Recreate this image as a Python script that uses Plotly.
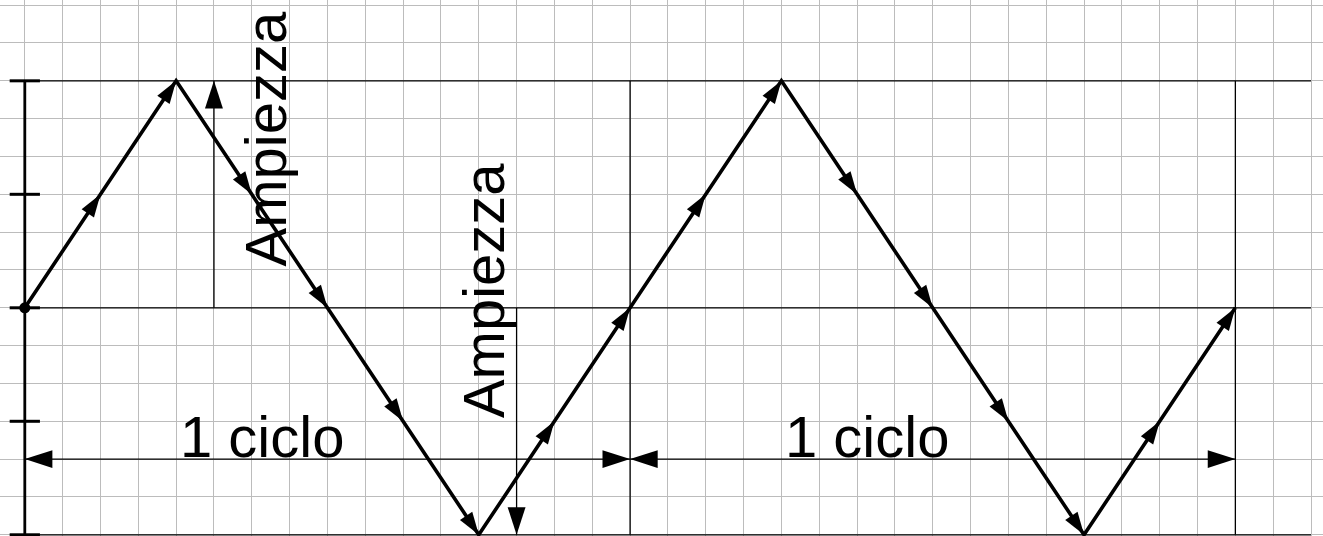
import math
import plotly.graph_objects as go

# ── Geometry of the sheet (grid units) ───────────────────────────────────────
CELL_PX = 37.83
ORIGIN_PX = (24.8, 307.8)
W, H = 1323, 536

# ── Data ─────────────────────────────────────────────────────────────────────
wave_x = [0, 2, 4, 6, 8, 10, 12, 14, 16, 18, 20, 22, 24, 26, 28, 30, 32]
wave_y = [0, 3, 6, 3, 0, -3, -6, -3, 0, 3, 6, 3, 0, -3, -6, -3, 0]

amp_levels = [-6, 0, 6]            # horizontal reference lines
amp_ticks = [-6, -3, 0, 3, 6]      # ticks on the vertical axis
cycle_bounds = [0, 16, 32]         # period boundaries
cycle_y = -4                       # height of the "1 ciclo" dimension lines
amp_arrows = [(5, 0, 6), (13, 0, -6)]   # (x, from, to)
amp_labels = [(6.36, 4.46), (12.13, 0.46)]
cycle_labels = [(6.27, -3.40), (22.27, -3.40)]
line_end = 34

FONT = "Liberation Sans, Arial, sans-serif"
INK = "#000000"

fig = go.Figure()

# thin horizontal reference lines
for lv in amp_levels:
    fig.add_trace(go.Scatter(x=[0, line_end], y=[lv, lv], mode="lines",
                             line=dict(color=INK, width=1.3), hoverinfo="skip"))

# thin vertical period lines
for cb in cycle_bounds[1:]:
    fig.add_trace(go.Scatter(x=[cb, cb], y=[min(amp_levels), max(amp_levels)],
                             mode="lines", line=dict(color=INK, width=1.3),
                             hoverinfo="skip"))

# thick vertical axis with ticks
fig.add_trace(go.Scatter(x=[0, 0], y=[min(amp_levels), max(amp_levels)], mode="lines",
                         line=dict(color=INK, width=2.8), hoverinfo="skip"))
for t in amp_ticks:
    fig.add_trace(go.Scatter(x=[-0.4, 0.4], y=[t, t], mode="lines",
                             line=dict(color=INK, width=3), hoverinfo="skip"))

# amplitude arrows
for ax_x, y0, y1 in amp_arrows:
    fig.add_trace(go.Scatter(x=[ax_x, ax_x], y=[y0, y1], mode="lines",
                             line=dict(color=INK, width=1.3), hoverinfo="skip"))
    fig.add_trace(go.Scatter(x=[ax_x], y=[y1], mode="markers",
                             marker=dict(symbol="arrow", size=29, color=INK,
                                         angle=0 if y1 > y0 else 180),
                             hoverinfo="skip"))

# "1 ciclo" dimension lines
for a, b in zip(cycle_bounds[:-1], cycle_bounds[1:]):
    fig.add_trace(go.Scatter(x=[a, b], y=[cycle_y, cycle_y], mode="lines",
                             line=dict(color=INK, width=1.3), hoverinfo="skip"))
    fig.add_trace(go.Scatter(x=[a, b], y=[cycle_y, cycle_y], mode="markers",
                             marker=dict(symbol="arrow", size=29, color=INK,
                                         angle=[-90, 90]),
                             hoverinfo="skip"))

# the triangle wave
fig.add_trace(go.Scatter(x=wave_x, y=wave_y, mode="lines",
                         line=dict(color=INK, width=3.6), hoverinfo="skip"))
head_angles = [math.degrees(math.atan2(x1 - x0, y1 - y0))
               for x0, y0, x1, y1 in zip(wave_x[:-1], wave_y[:-1], wave_x[1:], wave_y[1:])]
fig.add_trace(go.Scatter(x=wave_x[1:], y=wave_y[1:], mode="markers",
                         marker=dict(symbol="arrow", size=24, color=INK, angle=head_angles),
                         hoverinfo="skip"))
fig.add_trace(go.Scatter(x=wave_x[:1], y=wave_y[:1], mode="markers",
                         marker=dict(symbol="circle", size=11, color=INK),
                         hoverinfo="skip"))

annotations = []
for lx, ly in amp_labels:
    annotations.append(dict(x=lx, y=ly, text="Ampiezza", showarrow=False, textangle=-90,
                            font=dict(family=FONT, size=58, color=INK)))
for lx, ly in cycle_labels:
    annotations.append(dict(x=lx, y=ly, text="1 ciclo", showarrow=False,
                            font=dict(family=FONT, size=58, color=INK)))

x_rng = [-ORIGIN_PX[0] / CELL_PX, (W - ORIGIN_PX[0]) / CELL_PX]
y_rng = [-(H - ORIGIN_PX[1]) / CELL_PX, ORIGIN_PX[1] / CELL_PX]

grid = dict(showgrid=True, gridcolor="#bcbcbc", gridwidth=1, dtick=1, tick0=0,
            zeroline=False, showticklabels=False, ticks="", showline=False,
            fixedrange=True)

fig.update_layout(
    width=W, height=H,
    margin=dict(l=0, r=0, t=0, b=0),
    paper_bgcolor="white", plot_bgcolor="white",
    showlegend=False,
    xaxis=dict(range=x_rng, **grid),
    yaxis=dict(range=y_rng, **grid),
    annotations=annotations,
)

fig.write_html("out.html", config=dict(displayModeBar=False),
               post_script="document.body.style.margin='0';")
